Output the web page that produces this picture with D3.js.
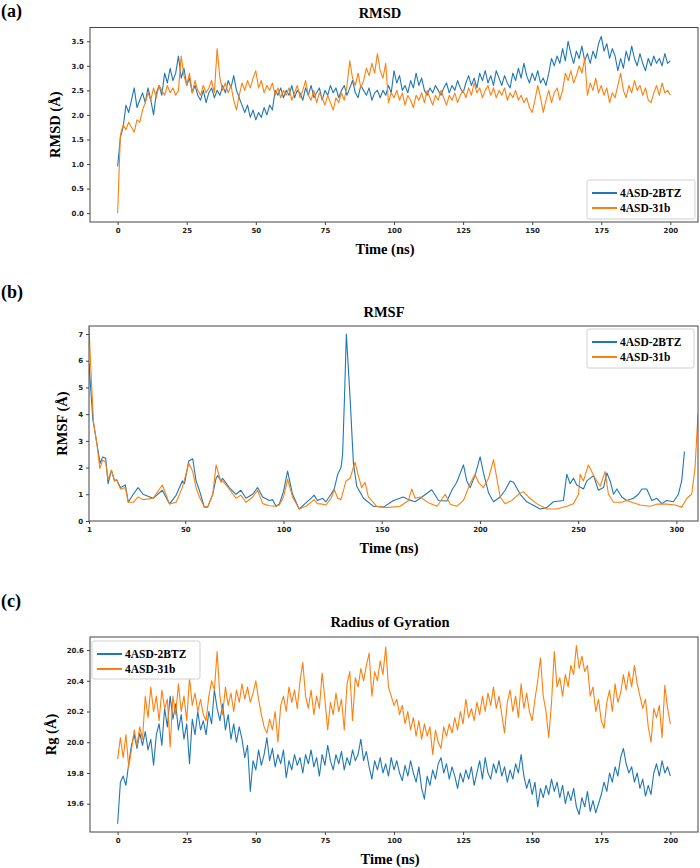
<!DOCTYPE html>
<html>
<head>
<meta charset="utf-8">
<script src="https://cdn.jsdelivr.net/npm/d3@7"></script>
<style>
    body { margin: 0; background: #fff; }
    svg { display: block; }
</style>
</head>
<body>
<svg id="figure" width="700" height="868"></svg>
<script>
// Series names / colours
const seriesNames = ["4ASD-2BTZ", "4ASD-31b"];
const seriesColors = ["#1f77b4", "#ff7f0e"];

// RMSD (A), one value per ns, 0..200
const rmsd2BTZ = [0.95,1.55,1.75,2.2,2.05,2.3,2.55,2.15,2.3,2.45,2.25,2.55,2.3,2.0,2.45,2.6,2.4,2.85,2.65,2.95,
    2.7,2.85,3.2,2.75,2.95,2.6,2.75,2.45,2.6,2.4,2.3,2.5,2.25,2.45,2.55,2.35,2.5,2.4,2.6,2.45,
    2.7,2.55,2.8,2.5,2.35,2.2,2.05,2.2,1.95,2.1,1.9,2.05,1.95,2.15,2.0,2.2,2.1,2.5,2.4,2.55,
    2.35,2.5,2.4,2.6,2.35,2.5,2.45,2.3,2.55,2.4,2.6,2.35,2.45,2.55,2.3,2.5,2.4,2.6,2.45,2.55,
    2.35,2.5,2.6,2.4,2.55,2.7,2.45,2.35,2.6,2.5,2.4,2.55,2.3,2.45,2.5,2.35,2.5,2.4,2.6,2.45,
    2.9,2.65,2.8,2.5,2.6,2.45,2.7,2.55,2.85,2.6,2.75,2.5,2.4,2.55,2.45,2.6,2.5,2.4,2.55,2.65,
    2.45,2.6,2.5,2.7,2.55,2.45,2.65,2.8,2.6,2.75,2.55,2.85,2.7,2.9,2.65,2.8,2.6,2.9,2.75,2.6,
    2.8,2.65,2.55,2.85,2.7,2.95,2.75,3.05,2.8,2.65,2.85,2.7,2.9,2.65,2.75,2.6,2.85,3.15,3.0,3.2,
    3.05,3.35,3.1,3.5,3.25,3.05,3.3,3.15,3.4,3.1,3.25,3.05,3.3,3.15,3.45,3.6,3.3,3.45,3.15,3.35,
    3.2,2.9,3.15,2.95,3.3,3.1,3.4,3.15,3.0,3.25,3.05,2.9,3.15,3.0,3.2,3.05,3.15,3.0,3.25,3.05,3.1];
const rmsd31b = [0.0,1.6,1.8,1.7,1.85,1.75,1.65,1.9,1.85,2.1,2.25,2.45,2.3,2.55,2.35,2.6,2.5,2.4,2.6,2.45,
    2.55,2.4,2.5,3.2,2.8,2.6,2.85,2.45,2.7,2.5,2.4,2.6,2.45,2.55,2.7,2.45,3.35,2.75,2.5,2.65,
    2.45,2.6,2.3,2.1,2.4,2.65,2.5,2.7,2.55,2.75,2.9,2.55,2.7,2.45,2.6,2.5,2.65,2.4,2.55,2.35,
    2.5,2.4,2.55,2.3,2.45,2.6,2.35,2.5,2.7,2.4,2.3,2.5,2.25,2.45,2.35,2.2,2.4,2.25,2.1,2.35,
    2.25,2.45,2.3,2.6,3.1,2.75,2.6,2.85,2.55,2.7,2.95,2.8,3.05,2.85,3.25,2.9,2.75,3.05,2.25,2.45,
    2.35,2.5,2.3,2.45,2.2,2.4,2.3,2.15,2.4,2.3,2.45,2.25,2.5,2.35,2.2,2.4,2.3,2.5,2.35,2.2,
    2.4,2.3,2.45,2.25,2.4,2.5,2.35,2.55,2.4,2.65,2.45,2.55,2.35,2.5,2.6,2.4,2.55,2.35,2.5,2.4,
    2.55,2.3,2.45,2.35,2.5,2.3,2.4,2.25,2.35,2.15,2.05,2.3,2.6,2.35,2.05,2.3,2.5,2.25,2.45,2.55,
    2.3,2.5,2.85,2.7,2.9,2.65,2.8,3.0,2.85,3.15,2.4,2.65,2.5,2.75,2.45,2.6,2.4,2.55,2.25,2.45,
    2.35,2.6,2.85,2.5,2.35,2.6,2.45,2.7,2.5,2.6,2.4,2.55,2.3,2.25,2.45,2.6,2.4,2.65,2.45,2.5,2.4];

// RMSF (A) per residue
const rmsfRes2BTZ = [1,2,3,5,6.7,8,9.5,10.7,12.4,14,15,17,19.5,21,23.5,26,28.5,33.6,38.3,42,
    45.4,48.5,49.6,51.8,53.8,55.5,57.2,59.7,61.4,64,65.7,66.5,68.2,69,72.4,75.8,78.3,80.9,84.3,86.8,
    89.4,92.8,94.5,96.2,97.9,100,102.1,104.6,108,111.4,114,115.6,117.3,119.9,121.6,124.2,125.9,127.6,129.3,130.1,
    131,132,133.9,135.6,137.3,140.7,145.8,150.9,156,161,163.6,167,169.6,175.5,178.9,183.2,185.7,188.2,191.6,193.3,
    195,197.5,200.1,201.8,204.4,206.9,210.3,212.8,215.4,217.1,220.5,223.8,228.1,230.6,234,237.4,242.5,244.2,245.9,247.6,
    249.3,252.7,254.4,257.8,260.3,262.9,264.6,266.3,268,269.7,272.2,274.7,278.1,280.7,282.4,284.9,287.5,290,292.6,295.1,
    298.5,301,302.7,304.1];
const rmsf2BTZ = [5.9,4.8,3.78,2.9,2.16,2.4,2.35,1.4,1.9,1.5,1.55,1.25,1.35,0.7,1.0,1.25,1.0,0.85,1.15,0.64,
    0.97,1.5,1.4,2.25,2.33,1.5,1.15,0.52,0.52,1.0,1.6,1.7,1.5,1.6,1.25,1.0,1.15,0.85,1.0,1.25,
    0.9,0.77,0.8,0.55,0.64,1.1,1.87,1.0,0.45,0.68,0.85,0.97,0.77,0.85,0.72,1.0,1.22,1.75,2.0,2.5,
    4.5,7.0,4.6,2.16,1.3,0.85,0.55,0.52,0.77,0.9,0.8,0.72,0.85,1.17,0.77,0.75,1.15,1.45,2.1,1.5,
    1.25,1.7,2.4,1.8,1.05,0.72,0.9,1.15,1.5,1.45,1.0,0.72,0.55,0.45,0.5,0.72,0.77,1.75,1.4,1.6,
    1.35,1.2,1.5,1.7,1.15,1.25,1.8,1.5,1.0,1.2,0.9,0.77,0.85,1.0,1.2,1.2,0.77,0.85,0.65,0.77,
    0.72,1.0,1.5,2.6];
const rmsfRes31b = [1,2,3.3,5,6.5,8,9.5,10.7,12.4,14,15,17,19.5,21,23.5,26,28.5,33.6,38.3,42,
    45.4,48.5,51.8,53.8,55.5,57.2,59.7,61.4,64,65.7,68.2,69,72.4,75.8,78.3,80.9,84.3,86.8,89.4,92.8,
    96.2,97.9,100,102.1,104.6,108,111.4,114,115.6,117.3,119.9,121.6,124.2,125.9,127.6,129.3,131.8,133.9,136.4,138.1,
    139.8,141.5,143.2,147.5,152.6,159.4,163.6,165.3,167,169.6,173.8,178.1,182.3,184.9,188.2,191.6,195,197.5,199.2,201.8,
    204.4,206.9,208.6,210.3,212.8,216.2,219.6,222.1,224.7,228.9,234,239.1,244.2,247.6,250.2,251,252.7,255.2,256.9,258.6,
    261.2,263.7,265.4,268,272.2,274.7,278.1,281.5,286.6,290,295.1,299.4,302.7,305.3,307.8,309.5,311];
const rmsf31b = [7.25,5.6,3.7,2.9,1.97,2.28,2.2,1.55,1.9,1.5,1.55,1.2,1.25,0.7,0.7,0.9,0.8,0.85,1.35,0.64,
    0.7,1.25,2.16,1.85,1.25,0.9,0.52,0.52,1.0,2.1,1.45,1.5,1.2,0.85,0.97,0.7,0.9,1.15,0.65,0.57,
    0.55,0.6,0.9,1.56,0.9,0.45,0.55,0.7,0.8,0.65,0.63,0.6,0.85,1.18,0.85,0.8,1.5,1.6,2.2,1.7,
    1.25,1.45,0.9,0.55,0.5,0.55,0.77,1.2,0.85,0.9,0.68,0.55,1.0,0.63,0.55,0.77,1.4,1.75,1.45,1.25,
    1.6,2.3,1.6,0.9,0.65,0.77,1.0,1.1,0.9,0.65,0.45,0.45,0.55,0.65,1.0,1.75,1.5,2.1,1.85,1.6,
    1.3,1.85,1.0,0.7,0.7,0.77,0.68,0.6,0.55,0.63,0.63,0.6,0.52,0.85,1.0,2.0,4.0];

// Radius of gyration (A), one value per ns, 0..200
const rg2BTZ = [19.47,19.74,19.78,19.72,19.86,19.98,20.05,19.96,20.06,19.98,20.07,19.95,20.02,19.85,20.05,20.12,19.98,20.22,20.1,20.3,
    20.15,20.25,20.08,20.18,20.02,20.12,19.86,20.15,20.05,20.2,20.08,20.14,20.05,20.2,20.12,20.34,20.22,20.14,20.25,20.08,
    20.18,20.02,20.12,20.0,20.1,20.02,19.9,19.98,19.68,19.88,19.82,19.95,19.85,19.92,20.03,19.88,19.96,19.84,19.92,19.86,
    19.95,19.77,19.88,19.82,19.92,19.85,19.9,19.8,19.92,19.86,19.95,19.84,19.9,19.78,19.92,19.85,19.98,19.88,19.82,19.92,
    19.86,19.94,19.82,19.9,19.85,19.95,19.88,19.92,20.02,19.88,19.94,19.84,19.76,19.88,19.82,19.9,19.8,19.86,19.78,19.9,
    19.82,19.88,19.8,19.75,19.85,19.78,19.88,19.8,19.74,19.84,19.7,19.63,19.78,19.72,19.82,19.76,19.86,19.9,19.8,19.86,
    19.76,19.84,19.78,19.7,19.8,19.74,19.82,19.76,19.84,19.72,19.8,19.88,19.76,19.9,19.8,19.76,19.86,19.8,19.88,19.78,
    19.84,19.74,19.82,19.76,19.86,19.8,19.92,19.78,19.7,19.76,19.66,19.74,19.58,19.7,19.64,19.72,19.66,19.76,19.68,19.74,
    19.64,19.72,19.6,19.68,19.62,19.7,19.58,19.53,19.64,19.58,19.68,19.55,19.62,19.54,19.6,19.66,19.74,19.68,19.8,19.74,
    19.84,19.78,19.9,19.96,19.86,19.8,19.84,19.74,19.8,19.7,19.76,19.65,19.72,19.66,19.8,19.86,19.78,19.88,19.8,19.84,19.78];
const rg31b = [19.89,20.03,19.9,20.05,19.84,19.95,20.08,19.98,20.1,20.02,20.3,20.16,20.36,20.2,20.3,20.14,20.34,20.22,20.28,19.97,
    20.3,20.18,20.38,20.2,20.3,20.14,20.42,20.24,20.32,20.2,20.28,20.18,20.14,20.3,20.4,20.34,20.59,20.3,20.18,20.36,
    20.24,20.32,20.2,20.34,20.26,20.38,20.28,20.36,20.26,20.32,20.4,20.28,20.18,20.1,20.06,20.15,20.08,20.2,20.0,20.24,
    20.3,20.2,20.36,20.26,20.34,20.22,20.4,20.52,20.3,20.22,20.34,20.18,20.3,20.22,20.45,20.28,20.08,20.26,20.18,20.32,
    20.2,20.28,20.08,20.38,20.46,20.14,20.42,20.36,20.48,20.4,20.5,20.58,20.3,20.46,20.4,20.53,20.44,20.62,20.36,20.3,
    20.24,20.28,20.18,20.24,20.12,20.2,20.08,20.16,20.04,20.14,20.02,20.12,20.04,20.1,19.92,20.08,20.0,19.96,20.1,20.04,
    20.12,20.06,20.16,20.08,20.2,20.12,20.28,20.16,20.22,20.14,20.26,20.18,20.3,20.2,20.32,20.24,20.36,20.22,20.3,20.18,
    20.06,20.26,20.34,20.2,20.3,20.16,20.38,20.22,20.32,20.2,20.14,20.28,20.4,20.55,20.3,20.2,20.03,20.26,20.59,20.36,
    20.42,20.3,20.44,20.36,20.5,20.44,20.63,20.48,20.56,20.46,20.5,20.3,20.36,20.2,20.28,20.14,20.09,20.26,20.34,20.2,
    20.38,20.26,20.32,20.44,20.34,20.46,20.36,20.5,20.38,20.3,20.22,20.28,20.1,20.0,20.22,20.16,20.24,20.03,20.37,20.22,20.12];

// Tick values
const timeTicks = [0, 25, 50, 75, 100, 125, 150, 175, 200];
const rmsdTicks = [0, 0.5, 1, 1.5, 2, 2.5, 3, 3.5];
const residueTicks = [1, 50, 100, 150, 200, 250, 300];
const rmsfTicks = [0, 1, 2, 3, 4, 5, 6, 7];
const rgTicks = [19.6, 19.8, 20.0, 20.2, 20.4, 20.6];

document.addEventListener("DOMContentLoaded", function() {

    const svg = d3.select("#figure");
    const serif = "'Liberation Serif', 'Times New Roman', serif";
    const tickFont = "'DejaVu Sans', sans-serif";

    const timeAxis = v => v.map((d, i) => ({x: i, y: d}));
    const pairs = (xs, ys) => xs.map((d, i) => ({x: d, y: ys[i]}));

    ////////// Panel definitions //////////

    const panels = [
        {
            tag: "(a)", tagY: 17, title: "RMSD", titleX: 380, titleY: 18,
            box: {l: 90, t: 27.5, r: 698, b: 222},
            xDomain: [-10, 210], yDomain: [-0.18, 3.78],
            xTicks: timeTicks, yTicks: rmsdTicks, yFmt: d3.format(".1f"),
            yLabel: "RMSD (Å)", yLabelX: 60, xLabelX: 385, xLabelY: 254,
            series: [timeAxis(rmsd2BTZ), timeAxis(rmsd31b)],
            legend: {x: 587, y: 180, w: 108, h: 39}
        },
        {
            tag: "(b)", tagY: 298, title: "RMSF", titleX: 384, titleY: 317,
            box: {l: 89, t: 326, r: 698, b: 521},
            xDomain: [1, 311], yDomain: [0, 7.3],
            xTicks: residueTicks, yTicks: rmsfTicks, yFmt: d3.format("d"),
            yLabel: "RMSF (Å)", yLabelX: 67, xLabelX: 389, xLabelY: 553,
            series: [pairs(rmsfRes2BTZ, rmsf2BTZ), pairs(rmsfRes31b, rmsf31b)],
            legend: {x: 587, y: 329, w: 107, h: 39}
        },
        {
            tag: "(c)", tagY: 607, title: "Radius of Gyration", titleX: 390, titleY: 627,
            box: {l: 90, t: 637, r: 698, b: 832},
            xDomain: [-10, 210], yDomain: [19.416, 20.685],
            xTicks: timeTicks, yTicks: rgTicks, yFmt: d3.format(".1f"),
            yLabel: "Rg (Å)", yLabelX: 56, xLabelX: 390, xLabelY: 864,
            series: [timeAxis(rg2BTZ), timeAxis(rg31b)],
            legend: {x: 92, y: 641, w: 108, h: 38}
        }
    ];

    ////////// Draw //////////

    panels.forEach(p => {
        const x = d3.scaleLinear().domain(p.xDomain).range([p.box.l, p.box.r]);
        const y = d3.scaleLinear().domain(p.yDomain).range([p.box.b, p.box.t]);
        const line = d3.line().x(d => x(d.x)).y(d => y(d.y));

        // Panel tag
        svg.append("text")
            .attr("x", 1).attr("y", p.tagY)
            .style("font-family", serif).style("font-weight", "bold").style("font-size", "18px")
            .text(p.tag);

        // Title
        svg.append("text")
            .attr("x", p.titleX).attr("y", p.titleY)
            .attr("text-anchor", "middle")
            .style("font-family", serif).style("font-weight", "bold").style("font-size", "14.5px")
            .text(p.title);

        // Clip
        const clipId = "clip" + p.tag.replace(/\W/g, "");
        svg.append("clipPath").attr("id", clipId)
            .append("rect")
            .attr("x", p.box.l).attr("y", p.box.t)
            .attr("width", p.box.r - p.box.l).attr("height", p.box.b - p.box.t);

        // Lines
        const g = svg.append("g").attr("clip-path", `url(#${clipId})`);
        p.series.forEach((s, i) => {
            g.append("path")
                .datum(s)
                .attr("d", line)
                .attr("fill", "none")
                .attr("stroke", seriesColors[i])
                .attr("stroke-width", 1.1)
                .attr("stroke-linejoin", "round");
        });

        // Axes
        const xAxis = svg.append("g")
            .attr("transform", `translate(0,${p.box.b})`)
            .call(d3.axisBottom(x).tickValues(p.xTicks).tickSize(3).tickPadding(3.5).tickFormat(d3.format("d")));
        const yAxis = svg.append("g")
            .attr("transform", `translate(${p.box.l},0)`)
            .call(d3.axisLeft(y).tickValues(p.yTicks).tickSize(3).tickPadding(3).tickFormat(p.yFmt));
        [xAxis, yAxis].forEach(a => {
            a.select(".domain").remove();
            a.selectAll("line").attr("stroke", "#444");
            a.selectAll("text")
                .style("font-family", tickFont).style("font-weight", "bold")
                .style("font-size", "7px").attr("fill", "#222");
        });

        // Frame
        svg.append("rect")
            .attr("x", p.box.l).attr("y", p.box.t)
            .attr("width", p.box.r - p.box.l).attr("height", p.box.b - p.box.t)
            .attr("fill", "none").attr("stroke", "#444").attr("stroke-width", 1);

        // Axis labels
        svg.append("text")
            .attr("x", p.xLabelX).attr("y", p.xLabelY)
            .attr("text-anchor", "middle")
            .style("font-family", serif).style("font-weight", "bold").style("font-size", "14.5px")
            .text("Time (ns)");
        const cy = (p.box.t + p.box.b) / 2;
        svg.append("text")
            .attr("transform", `translate(${p.yLabelX},${cy}) rotate(-90)`)
            .attr("text-anchor", "middle")
            .style("font-family", serif).style("font-weight", "bold").style("font-size", "14.5px")
            .text(p.yLabel);

        // Legend
        const lg = svg.append("g").attr("transform", `translate(${p.legend.x},${p.legend.y})`);
        lg.append("rect")
            .attr("width", p.legend.w).attr("height", p.legend.h)
            .attr("rx", 2)
            .attr("fill", "rgba(255,255,255,0.85)").attr("stroke", "#d0d0d0");
        seriesNames.forEach((name, i) => {
            const ly = 13 + i * 15;
            lg.append("line")
                .attr("x1", 5).attr("x2", 30).attr("y1", ly).attr("y2", ly)
                .attr("stroke", seriesColors[i]).attr("stroke-width", 2);
            lg.append("text")
                .attr("x", 33).attr("y", ly).attr("dy", "0.35em")
                .style("font-family", serif).style("font-weight", "bold").style("font-size", "11.5px")
                .text(name);
        });
    });
});
</script>
</body>
</html>
